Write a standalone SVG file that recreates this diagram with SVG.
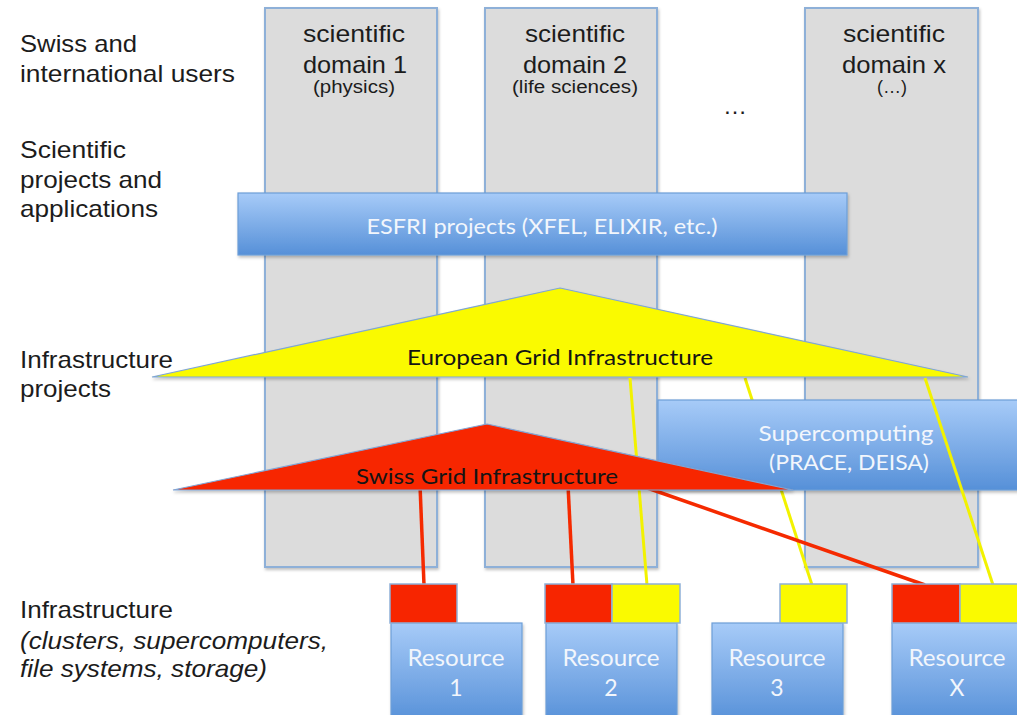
<svg xmlns="http://www.w3.org/2000/svg" width="1017" height="715" viewBox="0 0 1017 715">
<defs>
<linearGradient id="blueGrad" x1="0" y1="0" x2="0" y2="1">
<stop offset="0" stop-color="#a7cbf8"/>
<stop offset="1" stop-color="#5690d8"/>
</linearGradient>
<filter id="shadow" x="-5%" y="-5%" width="110%" height="115%">
<feDropShadow dx="1" dy="2" stdDeviation="1.5" flood-color="#000" flood-opacity="0.25"/>
</filter>
</defs>
<style>
.lbl{font-family:"Liberation Sans",Arial,sans-serif;font-size:24px;fill:#1c1c1c}
.it{font-style:italic}
.col{fill:#dcdcdc;stroke:#8eb0d8;stroke-width:2}
.coltxt{font-family:"Liberation Sans",Arial,sans-serif;font-size:24px;fill:#1c1c1c;text-anchor:middle}
.colsub{font-family:"Liberation Sans",Arial,sans-serif;font-size:18px;fill:#1c1c1c;text-anchor:middle}
.bbox{fill:url(#blueGrad);stroke:#6d9ed8;stroke-width:1.2}
.btxt{font-family:Lato,"Open Sans",sans-serif;font-size:22px;fill:#f2f6fc;text-anchor:middle}
.rtxt{font-family:Lato,"Open Sans",sans-serif;font-size:23px;fill:#f2f6fc;text-anchor:middle}
.ttxt{font-family:Lato,"Open Sans",sans-serif;font-size:22px;fill:#141414;text-anchor:middle}
.red{fill:#f72500}
.yel{fill:#fafa00}
.tri{stroke:#7fa6d6;stroke-width:1.2}
.sq{stroke:#8eb0d8;stroke-width:1.5}
.lr{stroke:#f52a00;stroke-width:3.5;fill:none}
.ly{stroke:#f2f200;stroke-width:3;fill:none}
</style>
<rect width="1017" height="715" fill="#ffffff"/>

<g id="labels">
<text class="lbl" x="20" y="52" textLength="117" lengthAdjust="spacingAndGlyphs">Swiss and</text>
<text class="lbl" x="20" y="82" textLength="215" lengthAdjust="spacingAndGlyphs">international users</text>
<text class="lbl" x="20" y="158" textLength="106" lengthAdjust="spacingAndGlyphs">Scientific</text>
<text class="lbl" x="20" y="188" textLength="142" lengthAdjust="spacingAndGlyphs">projects and</text>
<text class="lbl" x="20" y="217" textLength="138" lengthAdjust="spacingAndGlyphs">applications</text>
<text class="lbl" x="20" y="368" textLength="153" lengthAdjust="spacingAndGlyphs">Infrastructure</text>
<text class="lbl" x="20" y="397" textLength="91" lengthAdjust="spacingAndGlyphs">projects</text>
<text class="lbl" x="20" y="618" textLength="153" lengthAdjust="spacingAndGlyphs">Infrastructure</text>
<text class="lbl it" x="20" y="649" textLength="308" lengthAdjust="spacingAndGlyphs">(clusters, supercomputers,</text>
<text class="lbl it" x="20" y="677" textLength="247" lengthAdjust="spacingAndGlyphs">file systems, storage)</text>
</g>

<g id="domain1">
<rect class="col" x="265" y="8" width="172" height="559" filter="url(#shadow)"/>
<text class="coltxt" x="354" y="42" textLength="102" lengthAdjust="spacingAndGlyphs">scientific</text>
<text class="coltxt" x="355" y="73" textLength="104" lengthAdjust="spacingAndGlyphs">domain 1</text>
<text class="colsub" x="354" y="93" textLength="82" lengthAdjust="spacingAndGlyphs">(physics)</text>
</g>
<g id="domain2">
<rect class="col" x="485" y="8" width="172" height="559" filter="url(#shadow)"/>
<text class="coltxt" x="575" y="42" textLength="100" lengthAdjust="spacingAndGlyphs">scientific</text>
<text class="coltxt" x="575" y="73" textLength="104" lengthAdjust="spacingAndGlyphs">domain 2</text>
<text class="colsub" x="575" y="93" textLength="126" lengthAdjust="spacingAndGlyphs">(life sciences)</text>
</g>
<g id="domainx">
<rect class="col" x="805" y="8" width="173" height="559" filter="url(#shadow)"/>
<text class="coltxt" x="894" y="42" textLength="102" lengthAdjust="spacingAndGlyphs">scientific</text>
<text class="coltxt" x="894" y="73" textLength="104" lengthAdjust="spacingAndGlyphs">domain x</text>
<text class="colsub" x="892" y="93">(…)</text>
</g>
<g id="ellipsis">
<text class="coltxt" x="735" y="114">…</text>
</g>

<g id="esfri">
<rect class="bbox" x="238" y="193" width="609" height="62" filter="url(#shadow)"/>
<text class="btxt" x="542" y="234" textLength="351" lengthAdjust="spacingAndGlyphs">ESFRI projects (XFEL, ELIXIR, etc.)</text>
</g>

<g id="connectors-under">
<line class="ly" x1="745" y1="378" x2="812" y2="585"/>
</g>

<g id="egi">
<polygon class="yel tri" points="560,288 968,377 152,377" filter="url(#shadow)"/>
<text class="ttxt" x="560" y="365" textLength="306" lengthAdjust="spacingAndGlyphs">European Grid Infrastructure</text>
</g>

<g id="supercomputing">
<rect class="bbox" x="658" y="400" width="370" height="90" filter="url(#shadow)"/>
<text class="btxt" x="846" y="441" textLength="175" lengthAdjust="spacingAndGlyphs">Supercomputing</text>
<text class="btxt" x="849" y="470" textLength="160" lengthAdjust="spacingAndGlyphs">(PRACE, DEISA)</text>
</g>

<g id="connectors">
<line class="ly" x1="630" y1="378" x2="647" y2="585"/>
<line class="ly" x1="925" y1="378" x2="993" y2="585"/>
<line class="lr" x1="420" y1="485" x2="424" y2="585"/>
<line class="lr" x1="568" y1="485" x2="573" y2="585"/>
<line class="lr" x1="630" y1="482" x2="925" y2="585"/>
</g>

<g id="sgi">
<polygon class="red tri" points="487,424 793,490 173,490" filter="url(#shadow)"/>
<text class="ttxt" x="487" y="484" textLength="262" lengthAdjust="spacingAndGlyphs">Swiss Grid Infrastructure</text>
</g>

<g id="resource1">
<rect class="bbox" x="391" y="623" width="131" height="100" filter="url(#shadow)"/>
<rect class="red sq" x="390" y="584" width="67" height="39"/>
<text class="rtxt" x="456" y="666" textLength="97" lengthAdjust="spacingAndGlyphs">Resource</text>
<text class="rtxt" x="456" y="696">1</text>
</g>
<g id="resource2">
<rect class="bbox" x="546" y="623" width="131" height="100" filter="url(#shadow)"/>
<rect class="red sq" x="545" y="584" width="67" height="39"/>
<rect class="yel sq" x="612" y="584" width="68" height="39"/>
<text class="rtxt" x="611" y="666" textLength="97" lengthAdjust="spacingAndGlyphs">Resource</text>
<text class="rtxt" x="611" y="696">2</text>
</g>
<g id="resource3">
<rect class="bbox" x="712" y="623" width="131" height="100" filter="url(#shadow)"/>
<rect class="yel sq" x="780" y="584" width="67" height="39"/>
<text class="rtxt" x="777" y="666" textLength="97" lengthAdjust="spacingAndGlyphs">Resource</text>
<text class="rtxt" x="777" y="696">3</text>
</g>
<g id="resourceX">
<rect class="bbox" x="892" y="623" width="131" height="100" filter="url(#shadow)"/>
<rect class="red sq" x="892" y="584" width="68" height="39"/>
<rect class="yel sq" x="960" y="584" width="67" height="39"/>
<text class="rtxt" x="957" y="666" textLength="97" lengthAdjust="spacingAndGlyphs">Resource</text>
<text class="rtxt" x="957" y="696">X</text>
</g>
</svg>
